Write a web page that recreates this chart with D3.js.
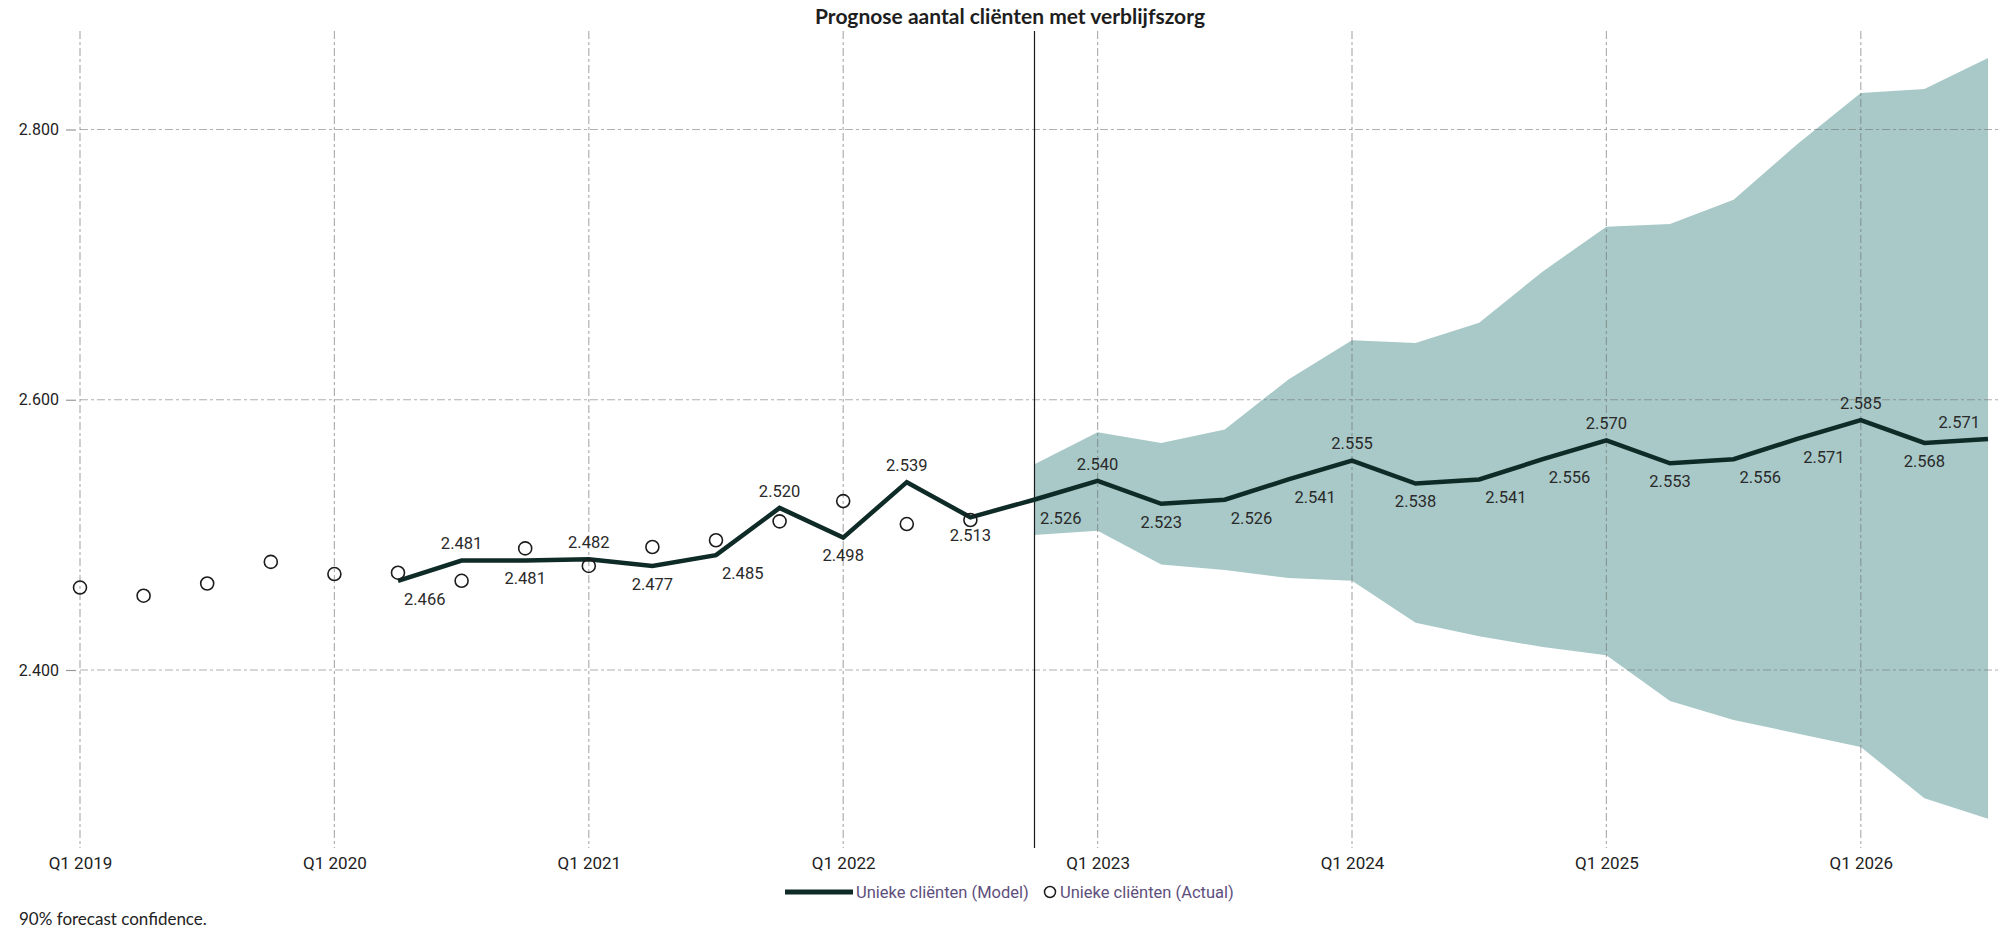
<!DOCTYPE html>
<html>
<head>
<meta charset="utf-8">
<script src="https://cdn.jsdelivr.net/npm/d3@7"></script>
<style>
  body { margin: 0; background: #fff; }
  text { font-family: Roboto, "Liberation Sans", sans-serif; }
</style>
</head>
<body>
<svg id="chart"></svg>
<script>
// Quarters on the x axis (Q1 2019 .. Q3 2026)
var quarters = ["Q1 2019","Q2 2019","Q3 2019","Q4 2019","Q1 2020","Q2 2020","Q3 2020","Q4 2020",
  "Q1 2021","Q2 2021","Q3 2021","Q4 2021","Q1 2022","Q2 2022","Q3 2022","Q4 2022",
  "Q1 2023","Q2 2023","Q3 2023","Q4 2023","Q1 2024","Q2 2024","Q3 2024","Q4 2024",
  "Q1 2025","Q2 2025","Q3 2025","Q4 2025","Q1 2026","Q2 2026","Q3 2026"];
var tickQuarters = ["Q1 2019","Q1 2020","Q1 2021","Q1 2022","Q1 2023","Q1 2024","Q1 2025","Q1 2026"];
var yTicks = [2400, 2600, 2800];

// Actual observed clients, Q1 2019 .. Q3 2022
var actualQuarters = quarters.slice(0, 15);
var actualValues = [2461, 2455, 2464, 2480, 2471, 2472, 2466, 2490, 2477, 2491, 2496, 2510, 2525, 2508, 2511];

// Model line, Q2 2020 .. Q3 2026
var modelQuarters = quarters.slice(5);
var modelValues = [2466, 2481, 2481, 2482, 2477, 2485, 2520, 2498, 2539, 2513, 2526,
  2540, 2523, 2526, 2541, 2555, 2538, 2541, 2556, 2570, 2553, 2556, 2571, 2585, 2568, 2571];

// 90% forecast band, Q4 2022 .. Q3 2026
var bandQuarters = quarters.slice(15);
var bandUpper = [2552, 2576, 2568, 2578, 2615, 2644, 2642, 2657, 2695, 2728, 2730, 2748, 2789, 2827, 2830, 2853];
var bandLower = [2500, 2503, 2478, 2474, 2468, 2466, 2435, 2425, 2417, 2411, 2377, 2363, 2353, 2343, 2305, 2290];

var forecastStart = "Q4 2022";

// Canvas
var width = 2005, height = 934;
var plotTop = 31, plotBottom = 848, plotLeft = 80, plotRight = 1998;

var svg = d3.select("#chart")
    .attr("width", width)
    .attr("height", height);

var x = d3.scalePoint().domain(quarters).range([80, 1988]);
var y = d3.scaleLinear().domain([2400, 2800]).range([670, 129.5]);

// dutch thousands separator is a dot
var fmtNL = function(v) { return d3.format(",")(v).replace(/,/g, "."); };

var gridColor = "#6f6f6f";

// Forecast band
var bandData = bandQuarters.map(function(q, i) { return {q: q, lo: bandLower[i], hi: bandUpper[i]}; });
svg.append("path")
    .datum(bandData)
    .attr("fill", "#a8c9c8")
    .attr("d", d3.area()
      .x(function(d) { return x(d.q); })
      .y0(function(d) { return y(d.lo); })
      .y1(function(d) { return y(d.hi); }));

// Grid lines (drawn over the band so they darken on it)
var grid = svg.append("g")
    .attr("stroke", gridColor)
    .attr("stroke-opacity", 0.55)
    .attr("stroke-width", 1.2)
    .attr("stroke-dasharray", "8,3,3,3");

grid.selectAll(".vgrid")
    .data(tickQuarters)
  .enter().append("line")
    .attr("x1", function(d) { return x(d); })
    .attr("x2", function(d) { return x(d); })
    .attr("y1", plotTop)
    .attr("y2", plotBottom);

grid.selectAll(".hgrid")
    .data(yTicks)
  .enter().append("line")
    .attr("x1", plotLeft)
    .attr("x2", plotRight)
    .attr("y1", function(d) { return y(d); })
    .attr("y2", function(d) { return y(d); });

// Y axis labels + small tick dash
var yAxis = d3.axisLeft(y)
    .tickValues(yTicks)
    .tickSize(10)
    .tickPadding(7)
    .tickFormat(fmtNL);
var yAxisG = svg.append("g")
    .attr("transform", "translate(" + (plotLeft - 4) + ",0)")
    .call(yAxis);
yAxisG.select(".domain").remove();
yAxisG.selectAll(".tick line").attr("stroke", "#999").attr("stroke-width", 1.2);
yAxisG.selectAll(".tick text")
    .attr("fill", "#222")
    .style("font-size", "16px")
    .style("font-family", "Roboto, sans-serif");

// X axis labels
var xAxis = d3.axisBottom(x)
    .tickValues(tickQuarters)
    .tickSize(0)
    .tickPadding(0);
var xAxisG = svg.append("g")
    .attr("transform", "translate(0," + 863 + ")")
    .call(xAxis);
xAxisG.select(".domain").remove();
xAxisG.selectAll(".tick text")
    .attr("fill", "#222")
    .attr("dy", "0.35em")
    .style("font-size", "17px")
    .style("font-family", "Roboto, sans-serif");

// Separator between history and forecast
svg.append("line")
    .attr("x1", Math.round(x(forecastStart)) + 0.5)
    .attr("x2", Math.round(x(forecastStart)) + 0.5)
    .attr("y1", plotTop)
    .attr("y2", plotBottom)
    .attr("stroke", "#1a1a1a")
    .attr("stroke-width", 1.2);

// Model line
var modelData = modelQuarters.map(function(q, i) { return {q: q, v: modelValues[i]}; });
svg.append("path")
    .datum(modelData)
    .attr("fill", "none")
    .attr("stroke", "#0f2b27")
    .attr("stroke-width", 4.5)
    .attr("stroke-linejoin", "miter")
    .attr("d", d3.line()
      .x(function(d) { return x(d.q); })
      .y(function(d) { return y(d.v); }));

// Actual points
svg.selectAll(".actual")
    .data(actualQuarters.map(function(q, i) { return {q: q, v: actualValues[i]}; }))
  .enter().append("circle")
    .attr("class", "actual")
    .attr("cx", function(d) { return x(d.q); })
    .attr("cy", function(d) { return y(d.v); })
    .attr("r", 6.5)
    .attr("fill", "none")
    .attr("stroke", "#1c1c1c")
    .attr("stroke-width", 1.6);

// Value labels: peaks above, valleys below, rising points below-right, last point above-left
function labelPos(i) {
  var v = modelValues[i];
  if (i === modelValues.length - 1) return "tl";
  if (i === 0) return "br";
  var prev = modelValues[i - 1], next = modelValues[i + 1];
  if (v >= prev && v >= next) return "t";
  if (v <= prev && v <= next) return "b";
  return "br";
}

svg.selectAll(".vlabel")
    .data(modelData)
  .enter().append("text")
    .attr("class", "vlabel")
    .attr("x", function(d, i) {
      var p = labelPos(i);
      if (p === "br") return x(d.q) + 6;
      if (p === "tl") return x(d.q) - 8;
      return x(d.q);
    })
    .attr("y", function(d, i) {
      var p = labelPos(i);
      return y(d.v) + (p === "t" || p === "tl" ? -17 : 18);
    })
    .attr("dy", "0.35em")
    .attr("text-anchor", function(d, i) {
      var p = labelPos(i);
      return p === "br" ? "start" : (p === "tl" ? "end" : "middle");
    })
    .attr("fill", "#2a2a2a")
    .style("font-size", "16.5px")
    .text(function(d) { return fmtNL(d.v); });

// Title
svg.append("text")
    .attr("x", 1010)
    .attr("y", 17)
    .attr("dy", "0.35em")
    .attr("text-anchor", "middle")
    .attr("fill", "#1e1e1e")
    .style("font-family", "Lato, sans-serif")
    .style("font-weight", 700)
    .style("font-size", "21px")
    .text("Prognose aantal cliënten met verblijfszorg");

// Legend
var legend = svg.append("g").attr("transform", "translate(0,892)");
legend.append("line")
    .attr("x1", 785).attr("x2", 853)
    .attr("y1", 0).attr("y2", 0)
    .attr("stroke", "#0f2b27")
    .attr("stroke-width", 5);
legend.append("text")
    .attr("x", 856).attr("y", 0).attr("dy", "0.35em")
    .attr("fill", "#5e4f7c")
    .style("font-size", "16.5px")
    .text("Unieke cliënten (Model)");
legend.append("circle")
    .attr("cx", 1050).attr("cy", 0).attr("r", 5.5)
    .attr("fill", "none")
    .attr("stroke", "#1c1c1c")
    .attr("stroke-width", 1.5);
legend.append("text")
    .attr("x", 1060).attr("y", 0).attr("dy", "0.35em")
    .attr("fill", "#5e4f7c")
    .style("font-size", "16.5px")
    .text("Unieke cliënten (Actual)");

// Footer note
svg.append("text")
    .attr("x", 19)
    .attr("y", 919)
    .attr("dy", "0.35em")
    .attr("fill", "#222")
    .style("font-family", "Lato, sans-serif")
    .style("font-size", "17px")
    .text("90% forecast confidence.");
</script>
</body>
</html>
